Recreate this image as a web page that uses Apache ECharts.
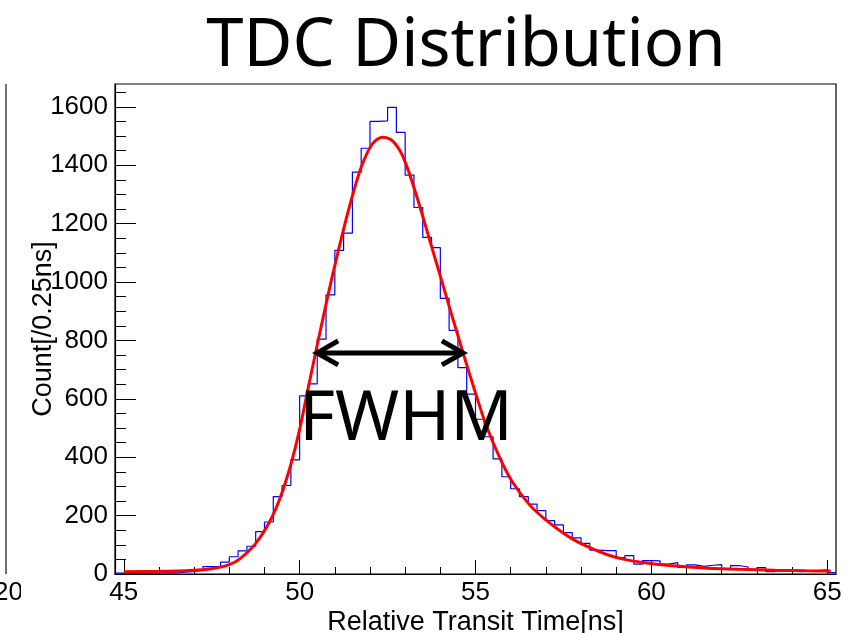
<!DOCTYPE html>
<html><head><meta charset="utf-8">
<script src="https://cdn.jsdelivr.net/npm/echarts@6/dist/echarts.min.js"></script>
<style>html,body{margin:0;padding:0;background:#fff}#c{width:867px;height:633px}</style>
</head><body><div id="c"></div>
<script>
const titleText = 'TDC Distribution';
const xTitle = 'Relative Transit Time[ns]';
const yTitle = 'Count[/0.25ns]';
const annotationText = 'FWHM';

// histogram: bins of 0.25 ns starting at 44.75 ns
const binStart = 44.75;
const binWidth = 0.25;
const counts = [
  3, 2, 3, 4, 3, 5, 4, 6, 8, 12,
  25, 25, 41, 59, 79, 95, 145, 178, 265, 303,
  391, 610, 651, 804, 956, 1108, 1167, 1376, 1458, 1550,
  1552, 1598, 1512, 1366, 1255, 1153, 1118, 944, 834, 707,
  616, 530, 470, 394, 333, 292, 265, 239, 217, 183,
  168, 142, 124, 105, 82, 80, 80, 56, 63, 34,
  46, 45, 34, 39, 23, 31, 26, 30, 32, 16,
  29, 24, 14, 22, 8, 12, 10, 8, 10, 12,
  14, 5
];

// fitted curve
const fitX = [45, 46, 46.5, 47, 47.5, 48, 48.3, 48.75, 49.15, 49.45, 49.75, 50.0, 50.2, 50.45, 50.7, 50.95, 51.25, 51.5, 51.75, 52.05, 52.35, 52.6, 52.85, 53.05, 53.3, 53.5, 53.75, 54.0, 54.3, 54.65, 55.0, 55.3, 55.7, 56.05, 56.55, 57.0, 57.4, 57.8, 58.25, 58.75, 59.2, 59.7, 60.6, 61.6, 62.5, 63.5, 64.4, 65.1];
const fitY = [8, 9, 10, 13, 18, 32, 52, 105, 180, 262, 375, 495, 612, 756, 896, 1031, 1181, 1295, 1393, 1470, 1496, 1487, 1450, 1395, 1305, 1225, 1122, 1020, 897, 756, 620, 510, 395, 315, 235, 185, 148, 117, 90, 66, 51, 40, 28, 20, 16, 13, 11, 10];

const xMin = 44.75, xMax = 65.25;
const yMin = 0, yMax = 1678;
const xMajorTicks = [45, 50, 55, 60, 65];
const xMinorTicks = [45, 46, 47, 48, 49, 50, 51, 52, 53, 54, 55, 56, 57, 58, 59, 60, 61, 62, 63, 64, 65];
const yMajorTicks = [0, 200, 400, 600, 800, 1000, 1200, 1400, 1600];
const yMinorTicks = [0, 50, 100, 150, 200, 250, 300, 350, 400, 450, 500, 550, 600, 650, 700, 750, 800, 850, 900, 950, 1000, 1050, 1100, 1150, 1200, 1250, 1300, 1350, 1400, 1450, 1500, 1550, 1600, 1650];

// FWHM arrow (data coordinates)
const fwhmX = [50.44, 54.7];
const fwhmLevel = 757;

const histData = counts.map((c, i) => [binStart + i * binWidth, c]);
histData.push([binStart + counts.length * binWidth, counts[counts.length - 1]]);
const fitData = fitX.map((x, i) => [x, fitY[i]]);

const FONT = 'Liberation Sans, Arial, Helvetica, sans-serif';
const chart = echarts.init(document.getElementById('c'), null, {renderer: 'canvas'});

const baseX = {min: xMin, max: xMax, type: 'value', gridIndex: 0, position: 'bottom', splitLine: {show: false}, nameMoveOverlap: false};
const baseY = {min: yMin, max: yMax, type: 'value', gridIndex: 0, position: 'left', splitLine: {show: false}, nameMoveOverlap: false};

chart.setOption({
  animation: false,
  backgroundColor: '#fff',
  grid: {left: 115, right: 31, top: 84, bottom: 59, containLabel: false, outerBoundsMode: 'none',
         show: true, borderColor: '#000', borderWidth: 1.2, backgroundColor: 'transparent'},
  xAxis: [
    Object.assign({}, baseX, {
      axisLine: {show: true, lineStyle: {color: '#000', width: 1.2}},
      axisTick: {show: true, inside: true, length: 14, customValues: xMajorTicks, lineStyle: {color: '#000', width: 1}},
      axisLabel: {show: true, customValues: xMajorTicks, fontFamily: FONT, fontSize: 26, color: '#000', margin: 6,
                  formatter: v => String(v)},
      name: xTitle, nameLocation: 'middle', nameGap: 35,
      nameTextStyle: {fontFamily: FONT, fontSize: 27, color: '#000'}
    }),
    Object.assign({}, baseX, {
      axisLine: {show: false},
      axisTick: {show: true, inside: true, length: 7, customValues: xMinorTicks, lineStyle: {color: '#000', width: 1}},
      axisLabel: {show: false}
    })
  ],
  yAxis: [
    Object.assign({}, baseY, {
      axisLine: {show: true, lineStyle: {color: '#000', width: 1.2}},
      axisTick: {show: true, inside: true, length: 21, customValues: yMajorTicks, lineStyle: {color: '#000', width: 1}},
      axisLabel: {show: true, customValues: yMajorTicks, fontFamily: FONT, fontSize: 26, color: '#000', margin: 7,
                  formatter: v => String(v)},
      name: yTitle, nameLocation: 'middle', nameRotate: 90, nameGap: 58,
      nameTextStyle: {fontFamily: FONT, fontSize: 27, color: '#000'}
    }),
    Object.assign({}, baseY, {
      axisLine: {show: false},
      axisTick: {show: true, inside: true, length: 11, customValues: yMinorTicks, lineStyle: {color: '#000', width: 1}},
      axisLabel: {show: false}
    })
  ],
  series: [
    {
      type: 'line', xAxisIndex: 0, yAxisIndex: 0, data: histData, step: 'end',
      showSymbol: false, symbol: 'none', clip: true,
      lineStyle: {color: '#0000ff', width: 1.2}, z: 2
    },
    {
      type: 'line', xAxisIndex: 0, yAxisIndex: 0, data: fitData, smooth: 0.3,
      showSymbol: false, symbol: 'none', clip: true,
      lineStyle: {color: '#ff0000', width: 3}, z: 3
    }
  ]
});

const p1 = chart.convertToPixel({xAxisIndex: 0, yAxisIndex: 0}, [fwhmX[0], fwhmLevel]);
const p2 = chart.convertToPixel({xAxisIndex: 0, yAxisIndex: 0}, [fwhmX[1], fwhmLevel]);
const ah = 23, aw = 12;
const arrowStyle = {stroke: '#000', lineWidth: 5, fill: null, lineCap: 'butt', lineJoin: 'miter'};

chart.setOption({
  graphic: [
    {type: 'text', x: 466, y: 47, z: 10, style: {text: titleText, fontFamily: 'Noto Sans', fontSize: 67, fill: '#000', align: 'center', verticalAlign: 'middle'}},
    {type: 'text', x: 406, y: 420, z: 10, style: {text: annotationText, fontFamily: 'Noto Sans', fontSize: 69, fill: '#000', align: 'center', verticalAlign: 'middle'}},
    {type: 'line', z: 10, shape: {x1: p1[0] + 3, y1: p1[1], x2: p2[0] - 3, y2: p2[1]}, style: arrowStyle},
    {type: 'polyline', z: 10, shape: {points: [[p1[0] + ah, p1[1] - aw], [p1[0] + 2, p1[1]], [p1[0] + ah, p1[1] + aw]]}, style: arrowStyle},
    {type: 'polyline', z: 10, shape: {points: [[p2[0] - ah, p2[1] - aw], [p2[0] - 2, p2[1]], [p2[0] - ah, p2[1] + aw]]}, style: arrowStyle},
    // neighbouring plot, cut off at the left edge
    {type: 'line', z: 5, shape: {x1: 6, y1: 84, x2: 6, y2: 574}, style: {stroke: '#444', lineWidth: 1.5}},
    {type: 'text', x: -6, y: 593, z: 5, style: {text: '200', fontFamily: FONT, fontSize: 26, fill: '#000', align: 'left', verticalAlign: 'middle'}},
    {type: 'rect', z: 6, shape: {x: 21, y: 578, width: 26, height: 32}, style: {fill: '#fff'}}
  ]
});
</script>
</body></html>
